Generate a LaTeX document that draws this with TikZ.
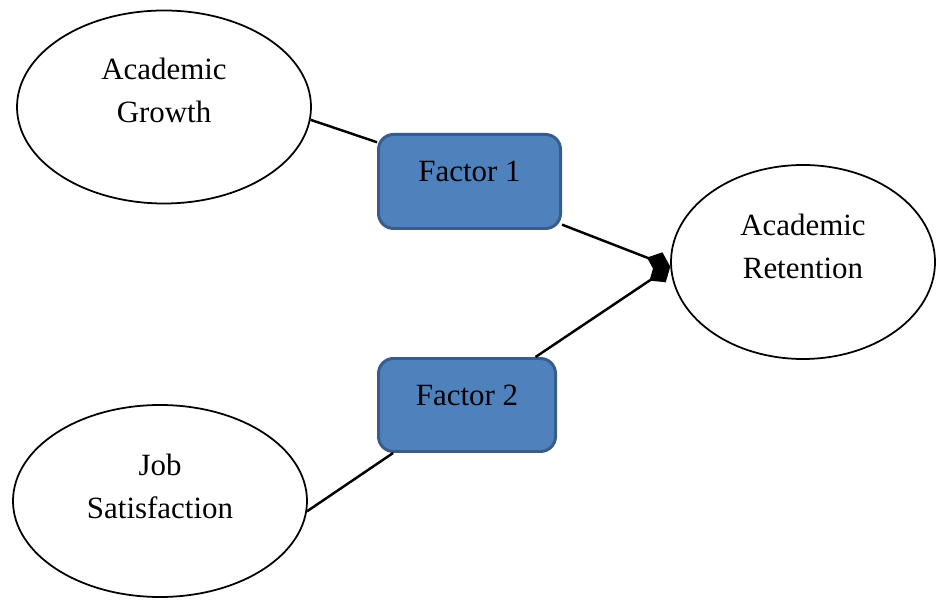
\documentclass[tikz,border=0pt]{standalone}
\usepackage{fontspec}
\setmainfont{Liberation Serif}
\usetikzlibrary{shapes.geometric,arrows.meta}
\definecolor{factorfill}{HTML}{4F81BD}
\definecolor{factordraw}{HTML}{385D8A}
\tikzset{
    bubble/.style={draw=black, line width=1pt, ellipse, inner sep=0pt},
    factorbox/.style={draw=factordraw, fill=factorfill, line width=1.7pt, rounded corners=0.3cm, inner sep=0pt},
    caption/.style={align=center, font=\fontsize{17.6}{24.4}\selectfont},
    link/.style={line width=1.4pt},
    tip/.style={-{Diamond[length=5mm,width=4.2mm]}}
}
\begin{document}
\begin{tikzpicture}
        \useasboundingbox (0,0) rectangle (18.74,11.98);
        \node [bubble, minimum width=5.88cm, minimum height=3.86cm] (ag) at (3.28,9.84) {};
        \node [bubble, minimum width=5.28cm, minimum height=3.88cm] (ar) at (16.06,6.74) {};
        \node [bubble, minimum width=5.88cm, minimum height=3.84cm] (js) at (3.2,1.96) {};
        \node [factorbox, minimum width=3.64cm, minimum height=1.88cm] (f1) at (9.39,8.35) {};
        \node [factorbox, minimum width=3.54cm, minimum height=1.86cm] (f2) at (9.34,3.88) {};
        \node [caption] (ag-text) at ([yshift=0.33cm]ag.center) {Academic\\Growth};
        \node [caption] (ar-text) at ([yshift=0.32cm]ar.center) {Academic\\Retention};
        \node [caption] (js-text) at ([yshift=0.3cm]js.center) {Job\\Satisfaction};
        \node [caption] (f1-text) at ([yshift=0.2cm]f1.center) {Factor 1};
        \node [caption] (f2-text) at ([yshift=0.2cm]f2.center) {Factor 2};
        \draw [link] (ag.-5) -- (f1.157);
        \draw [link] (js.-4) -- (f2.213);
        \draw [link, tip] (f1.-25) -- (ar.182);
        \draw [link, tip] (f2.35) -- (ar.182);
\end{tikzpicture}
\end{document}
